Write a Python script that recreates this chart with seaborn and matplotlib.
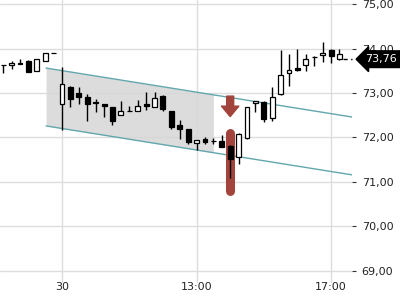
import numpy as np
import pandas as pd
import matplotlib
matplotlib.use("Agg")
import matplotlib.pyplot as plt
import matplotlib.transforms as mtrans
import seaborn as sns

# ---- data (15-min candles) ----
opens = [73.63, 73.63, 73.67, 73.73, 73.49, 73.71, 73.89,
         72.75, 73.14, 73.01, 72.92, 72.80, 72.75, 72.68, 72.50, 72.60, 72.60,
         72.75, 72.68, 72.94, 72.60, 72.27, 72.19, 71.88, 71.96, 71.92, 71.92,
         71.81, 71.57, 71.98, 72.77, 72.80, 72.43, 72.97, 73.46, 73.56, 73.64,
         73.81, 73.85, 73.97, 73.76]
highs = [73.64, 73.73, 73.76, 73.74, 73.76, 73.89, 73.89,
         73.59, 73.15, 73.14, 72.98, 72.87, 72.75, 72.69, 72.83, 72.71, 72.84,
         73.03, 73.03, 72.96, 72.60, 72.39, 72.19, 71.95, 72.00, 71.99, 72.06,
         71.83, 72.09, 72.68, 72.82, 72.81, 73.13, 73.97, 73.87, 74.00, 73.88,
         73.83, 74.14, 73.99, 73.99]
lows = [73.44, 73.53, 73.66, 73.47, 73.49, 73.71, 73.89,
        72.17, 72.69, 72.75, 72.37, 72.58, 72.47, 72.27, 72.50, 72.60, 72.60,
        72.62, 72.68, 72.60, 72.19, 71.97, 71.85, 71.72, 71.85, 71.85, 71.79,
        71.08, 71.40, 71.96, 72.58, 72.34, 72.38, 72.96, 73.16, 73.50, 73.50,
        73.61, 73.70, 73.68, 73.74]
closes = [73.62, 73.68, 73.66, 73.48, 73.76, 73.89, 73.89,
          73.21, 72.87, 72.92, 72.75, 72.78, 72.71, 72.36, 72.59, 72.60, 72.71,
          72.71, 72.89, 72.64, 72.23, 72.19, 71.89, 71.95, 71.89, 71.93, 71.79,
          71.51, 72.07, 72.68, 72.81, 72.41, 72.92, 73.40, 73.52, 73.52, 73.76,
          73.80, 73.91, 73.83, 73.87]
last_price = 73.76

x_tick_pos = [7, 23, 39]
x_tick_labels = ["30", "13:00", "17:00"]
y_ticks = [69, 70, 71, 72, 73, 74, 75]

channel_x = [5.1, 41.5]
channel_upper = [73.56, 72.46]
channel_lower = [72.26, 71.16]
shade_x = [5.1, 25.0]

signal_idx = 27
signal_arrow = [72.93, 72.47]
signal_bar = [72.11, 70.80]

# ---- style ----
sns.set_style("white")
plt.rcParams["font.family"] = ["DejaVu Sans"]

fig = plt.figure(figsize=(4, 3), dpi=100)
ax = fig.add_axes([0, 0, 0.88, 1])
xmin, xmax = -0.38, 41.49
ax.set_xlim(xmin, xmax)
ax.set_ylim(68.348, 75.09)
for s in ax.spines.values():
    s.set_visible(False)

grid_c = "#dddddd"
for yv in y_ticks:
    ax.axhline(yv, color=grid_c, lw=1, zorder=0)
for xv in x_tick_pos:
    ax.axvline(xv, ymin=0.06, ymax=1, color=grid_c, lw=1, zorder=0)

# channel shading
sx = np.array(shade_x)
su = np.interp(sx, channel_x, channel_upper)
sl = np.interp(sx, channel_x, channel_lower)
ax.fill_between(sx, sl, su, color="#d6d6d6", alpha=0.85, lw=0, zorder=1)

teal = "#62a7ad"
df_ch = pd.DataFrame({"x": channel_x * 2,
                      "y": channel_upper + channel_lower,
                      "line": ["u", "u", "l", "l"]})
sns.lineplot(data=df_ch, x="x", y="y", units="line", estimator=None,
             color=teal, lw=1, ax=ax, zorder=2, legend=False)

# signal marker
red = "#a2433c"
ax.plot([signal_idx, signal_idx], signal_bar, color=red, lw=6.5,
        solid_capstyle="round", zorder=3)
ax.annotate("", xy=(signal_idx, signal_arrow[1]), xytext=(signal_idx, signal_arrow[0]),
            arrowprops=dict(arrowstyle="simple,head_length=0.75,head_width=1.25,tail_width=0.5",
                            color=red, shrinkA=0, shrinkB=0, mutation_scale=10), zorder=3)

# candles
idx = np.arange(len(opens))
o = np.array(opens); c = np.array(closes); h = np.array(highs); l = np.array(lows)
ax.vlines(idx, l, h, color="black", lw=1, zorder=4)
up = c >= o
bottoms = np.minimum(o, c)
heights = np.abs(c - o)
ax.bar(idx, heights, bottom=bottoms, width=0.58,
       color=np.where(up, "white", "black"), edgecolor="black", lw=0.9, zorder=5)

# last price
ax.plot([idx[-1] + 0.4, xmax], [last_price, last_price], color="black", lw=1,
        dashes=(3, 2.5), zorder=5, clip_on=False)
trans = mtrans.blended_transform_factory(ax.transAxes, ax.transData)
ax.text(1.038, last_price, f"{last_price:.2f}".replace(".", ","), transform=trans,
        color="white", fontsize=8, ha="left", va="center", clip_on=False,
        bbox=dict(boxstyle="larrow,pad=0.3", fc="black", ec="black"))

# axes ticks
ax.yaxis.tick_right()
ax.set_yticks(y_ticks)
ax.set_yticklabels([f"{v:.2f}".replace(".", ",") for v in y_ticks])
ax.tick_params(axis="y", direction="out", length=3, width=0.8, color="#333333",
               labelsize=8, labelcolor="#222222", pad=4, right=True, left=False)
ax.set_xticks(x_tick_pos)
ax.set_xticklabels(x_tick_labels)
ax.tick_params(axis="x", direction="in", length=4, width=1, color="#222222",
               labelsize=8, labelcolor="#222222", pad=-13)
ax.set_xlabel(""); ax.set_ylabel("")

fig.savefig("out.png", dpi=100)
